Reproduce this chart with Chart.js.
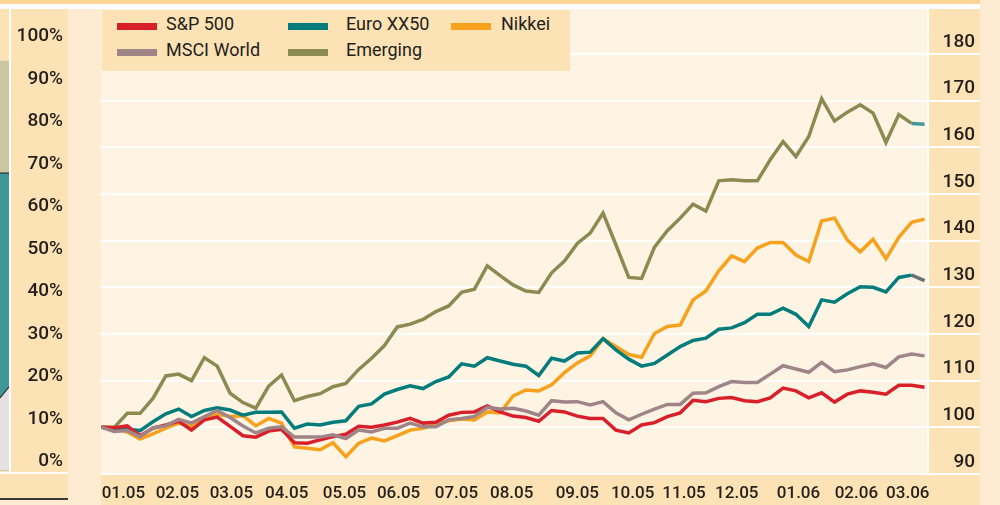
<!DOCTYPE html>
<html>
<head>
<meta charset="utf-8">
<script src="https://cdn.jsdelivr.net/npm/chart.js@4.4.1/dist/chart.umd.min.js"></script>
<style>
html, body { margin: 0; padding: 0; background: #fdebd2; }
#wrap { position: relative; width: 1000px; height: 505px; overflow: hidden; font-family: Roboto, "Noto Sans", sans-serif; }
.panel { position: absolute; }
#chart { position: absolute; left: 0; top: 0; }
#legend { position: absolute; left: 102px; top: 10px; width: 468px; height: 61px; background: #fde2b5; }
.swatch { position: absolute; width: 40px; height: 7px; }
.label { position: absolute; font-size: 18px; line-height: 20px; font-weight: 400; color: #231f1c; white-space: nowrap; }
</style>
</head>
<body>
<div id="wrap">
  <div class="panel" style="left:0;top:0;width:980px;height:4px;background:#fcd595"></div>
  <div class="panel" style="left:0;top:4px;width:980px;height:5px;background:#ffffff"></div>
  <div class="panel" style="left:0;top:9px;width:68px;height:463px;background:#fde2b5"></div>
  <div class="panel" style="left:9px;top:9px;width:1.5px;height:463px;background:#ffffff"></div>
  <div class="panel" style="left:0;top:472px;width:68px;height:2px;background:#ffffff"></div>
  <div class="panel" style="left:0;top:474px;width:68px;height:24px;background:#fde2b5"></div>
  <div class="panel" style="left:0;top:498px;width:68px;height:1.5px;background:#3b3633"></div>
  <div class="panel" style="left:101px;top:9px;width:827px;height:465px;background:#fdf4e4"></div>
  <div class="panel" style="left:928px;top:9px;width:52px;height:465px;background:#fde2b5"></div>
  <div class="panel" style="left:101px;top:474px;width:879px;height:31px;background:#fde2b5"></div>
  <canvas id="chart" width="1000" height="505"></canvas>
  <div id="legend"></div>
</div>
<script>
// weekly index values, start = 100
const sp500 = [100.0, 99.9, 100.3, 98.2, 99.8, 100.5, 101.3, 99.4, 101.6, 102.2, 100.2, 98.2, 97.9, 99.2, 99.6, 96.7,
  96.6, 97.3, 98.0, 98.5, 100.2, 100.0, 100.5, 101.1, 101.9, 100.9, 101.1, 102.6, 103.2, 103.3, 104.6, 103.3,
  102.4, 102.1, 101.3, 103.6, 103.3, 102.4, 101.9, 101.9, 99.4, 98.8, 100.5, 101.0, 102.3, 103.1, 105.8, 105.5,
  106.2, 106.4, 105.7, 105.5, 106.3, 108.4, 107.8, 106.3, 107.4, 105.4, 107.1, 107.8, 107.5, 107.1, 109.0, 109.0, 108.6];
const euro = [100.0, 99.8, 99.6, 99.3, 101.2, 102.9, 103.9, 102.3, 103.6, 104.2, 103.7, 102.6, 103.2, 103.2, 103.3, 99.8,
  100.7, 100.5, 101.1, 101.4, 104.5, 105.0, 107.1, 108.1, 108.9, 108.3, 109.8, 110.8, 113.6, 113.1, 114.9, 114.2,
  113.5, 113.1, 111.1, 114.8, 114.2, 115.9, 116.1, 119.0, 116.6, 114.6, 113.1, 113.7, 115.5, 117.3, 118.6, 119.1,
  121.0, 121.3, 122.4, 124.2, 124.2, 125.5, 124.2, 121.6, 127.3, 126.8, 128.6, 130.1, 130.0, 129.0, 132.1, 132.6, 131.4];
const nikkei = [100.0, 99.9, 99.0, 97.5, 98.6, 99.8, 100.9, 100.2, 101.9, 102.8, 102.3, 102.5, 100.3, 101.9, 100.9, 95.8,
  95.5, 95.2, 96.7, 93.7, 96.6, 97.7, 97.1, 98.2, 99.4, 99.8, 100.7, 101.4, 101.8, 101.6, 103.3, 103.1,
  106.7, 108.0, 107.8, 109.1, 111.7, 113.8, 115.3, 119.0, 117.3, 115.6, 115.0, 120.1, 121.6, 121.9, 127.3, 129.2,
  133.5, 136.7, 135.5, 138.4, 139.6, 139.6, 136.9, 135.5, 144.2, 144.8, 140.1, 137.6, 140.3, 136.1, 140.7, 143.9, 144.6];
const msci = [100.0, 99.1, 99.3, 98.0, 99.9, 100.3, 101.7, 100.9, 102.3, 103.6, 102.1, 100.3, 98.8, 99.8, 100.1, 97.9,
  97.9, 97.9, 98.4, 97.6, 99.4, 99.0, 99.8, 99.8, 100.9, 100.1, 100.1, 101.6, 101.9, 102.3, 104.3, 103.9,
  104.1, 103.5, 102.6, 105.7, 105.4, 105.5, 104.8, 105.5, 103.1, 101.6, 102.8, 103.9, 104.9, 104.9, 107.3, 107.4,
  108.7, 109.8, 109.6, 109.6, 111.4, 113.2, 112.5, 111.8, 113.9, 111.9, 112.3, 113.0, 113.6, 112.8, 115.1, 115.7, 115.3];
const emerging = [100.0, 100.0, 103.0, 103.0, 106.2, 111.0, 111.4, 110.0, 114.9, 113.1, 107.3, 105.3, 104.1, 108.8, 111.2, 105.7,
  106.6, 107.2, 108.7, 109.4, 112.4, 114.8, 117.5, 121.5, 122.1, 123.1, 124.8, 126.0, 128.9, 129.6, 134.6, 132.5,
  130.5, 129.2, 128.9, 133.1, 135.6, 139.4, 141.6, 145.9, 139.1, 132.1, 131.9, 138.6, 142.1, 144.8, 147.8, 146.3,
  152.8, 153.0, 152.8, 152.8, 157.3, 161.2, 158.0, 162.3, 170.4, 165.6, 167.5, 169.1, 167.3, 161.0, 167.0, 165.1, 164.9];

// month labels and where they sit (in weeks from the start)
const monthLabels = ['01.05', '02.05', '03.05', '04.05', '05.05', '06.05', '07.05', '08.05',
  '09.05', '10.05', '11.05', '12.05', '01.06', '02.06', '03.06'];
const monthPos = [1.7, 5.9, 10.1, 14.4, 18.9, 23.1, 27.6, 31.9, 37.0, 41.3, 45.3, 49.4, 54.2, 58.7, 62.7];

const indexTicks = [90, 100, 110, 120, 130, 140, 150, 160, 170, 180];
const pctTicks = [0, 10, 20, 30, 40, 50, 60, 70, 80, 90, 100];

// cut-off stacked chart at the far left edge (percent levels, left and right edge)
const fragmentBands = [
  { color: '#c9c6a0', top: [93.8, 93.8], edge: false },
  { color: '#3f9797', top: [67.4, 67.4], edge: true },
  { color: '#e7e0e1', top: [14.5, 17.1], edge: true }
];
const fragmentBottom = -2.5;

const textColor = '#231f1c';
const yFont = { family: 'Roboto', size: 19, weight: '500' };
const xFont = { family: 'Roboto', size: 17, weight: '500' };

function toPoints(arr) {
  return arr.map((v, i) => ({ x: i, y: v }));
}

const lastSeg = sp500.length - 1;

const fragmentPlugin = {
  id: 'fragment',
  beforeDraw(chart) {
    const c = chart.ctx;
    const s = chart.scales.yPct;
    const x0 = 0, x1 = 9;
    fragmentBands.forEach(b => {
      c.save();
      c.fillStyle = b.color;
      c.beginPath();
      c.moveTo(x0, s.getPixelForValue(b.top[0]));
      c.lineTo(x1, s.getPixelForValue(b.top[1]));
      c.lineTo(x1, s.getPixelForValue(fragmentBottom));
      c.lineTo(x0, s.getPixelForValue(fragmentBottom));
      c.closePath();
      c.fill();
      if (b.edge) {
        c.strokeStyle = '#2f2f2f';
        c.lineWidth = 1.2;
        c.beginPath();
        c.moveTo(x0, s.getPixelForValue(b.top[0]));
        c.lineTo(x1, s.getPixelForValue(b.top[1]));
        c.stroke();
      }
      c.restore();
    });
  }
};

const chart = new Chart(document.getElementById('chart'), {
  type: 'line',
  data: {
    datasets: [
      { label: 'S&P 500', data: toPoints(sp500), borderColor: '#d9202a', order: 1 },
      { label: 'Euro XX50', data: toPoints(euro), borderColor: '#047c7b', order: 2,
        segment: { borderColor: c => c.p1DataIndex === lastSeg ? '#6b7172' : undefined } },
      { label: 'Nikkei', data: toPoints(nikkei), borderColor: '#f7a11c', order: 3 },
      { label: 'MSCI World', data: toPoints(msci), borderColor: '#a08588', order: 0 },
      { label: 'Emerging', data: toPoints(emerging), borderColor: '#8b8b51', order: 4,
        segment: { borderColor: c => c.p1DataIndex === lastSeg ? '#3f999a' : undefined } }
    ]
  },
  options: {
    responsive: false,
    animation: false,
    layout: { padding: { left: 10, right: 25, top: 9, bottom: 0 } },
    plugins: { legend: { display: false }, tooltip: { enabled: false } },
    elements: {
      point: { radius: 0 },
      line: { tension: 0, borderWidth: 3.5, borderJoinStyle: 'miter', fill: false }
    },
    scales: {
      x: {
        type: 'linear',
        position: 'bottom',
        min: -0.04,
        max: 64.27,
        grid: { display: false, drawTicks: false },
        border: { display: false },
        afterBuildTicks: s => { s.ticks = monthPos.map(v => ({ value: v })); },
        ticks: {
          autoSkip: false, maxRotation: 0, padding: 10,
          font: xFont, color: textColor,
          callback: (v, i) => monthLabels[i]
        },
        afterFit: s => { s.height = 31; s.paddingLeft = 0; s.paddingRight = 0; }
      },
      yPct: {
        type: 'linear',
        position: 'left',
        min: -3.41,
        max: 106.0,
        grid: { display: false, drawTicks: false },
        border: { display: false },
        afterBuildTicks: s => { s.ticks = pctTicks.map(v => ({ value: v })); },
        ticks: { padding: 38, labelOffset: 2, font: yFont, color: textColor, callback: v => v + '%' },
        afterFit: s => { s.width = 91; s.paddingTop = 0; s.paddingBottom = 0; }
      },
      y: {
        type: 'linear',
        position: 'right',
        min: 90,
        max: 189.6,
        grid: { color: '#ffffff', lineWidth: 2, drawTicks: true, tickLength: 52 },
        border: { display: true, color: '#ffffff', width: 2 },
        afterBuildTicks: s => { s.ticks = indexTicks.map(v => ({ value: v })); },
        ticks: { crossAlign: 'far', labelOffset: -12, font: yFont, color: textColor },
        afterFit: s => { s.width = 47; s.paddingTop = 0; s.paddingBottom = 0; }
      }
    }
  },
  plugins: [fragmentPlugin]
});
chart.data.datasets.forEach(ds => { ds.yAxisID = 'y'; ds.xAxisID = 'x'; });
chart.update();

// legend, laid out like the original: three columns, two rows
const legendSlots = [[0, 0], [1, 0], [2, 0], [0, 1], [1, 1]];
const swatchX = [15, 186, 349];
const textX = [64, 244, 399];
const rowSwatchY = [12.7, 39.3];
const rowTextY = [3.5, 30.2];
const legendBox = document.getElementById('legend');
chart.data.datasets.forEach((ds, i) => {
  const [col, row] = legendSlots[i];
  const sw = document.createElement('div');
  sw.className = 'swatch';
  sw.style.left = swatchX[col] + 'px';
  sw.style.top = rowSwatchY[row] + 'px';
  sw.style.background = ds.borderColor;
  legendBox.appendChild(sw);
  const tx = document.createElement('div');
  tx.className = 'label';
  tx.style.left = textX[col] + 'px';
  tx.style.top = rowTextY[row] + 'px';
  tx.textContent = ds.label;
  legendBox.appendChild(tx);
});
</script>
</body>
</html>
